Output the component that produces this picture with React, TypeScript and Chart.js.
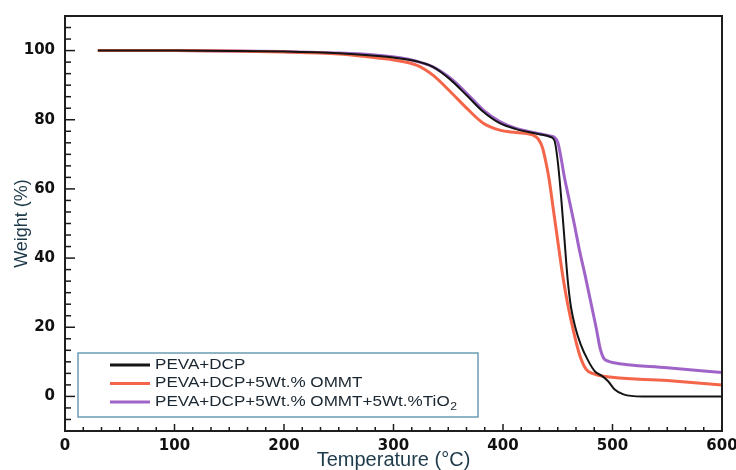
import React, { useEffect, useRef } from "react";
import { Chart, registerables } from "chart.js";

Chart.register(...registerables);

const seriesLabels = [
  "PEVA+DCP",
  "PEVA+DCP+5Wt.% OMMT",
  "PEVA+DCP+5Wt.% OMMT+5Wt.%TiO₂",
];
const seriesColors = ["#141414", "#f4654a", "#a064c8"];

const tempBlack = [30, 100, 150, 200, 250, 280, 300, 320, 336, 352, 367, 382, 397, 412, 430, 443, 447, 450, 453, 456, 459, 462, 466, 471, 478, 484, 490, 496, 502, 510, 527, 550, 600];
const weightBlack = [100, 100, 99.9, 99.7, 99.2, 98.6, 98, 97, 95.3, 91.6, 87, 82.3, 79, 77.3, 76, 75.1, 74, 68, 58, 46, 34, 26, 20, 15, 10.2, 7.2, 6, 4.4, 2, 0.6, 0, 0, 0];

const tempRed = [30, 100, 150, 200, 250, 276, 300, 321, 336, 352, 367, 382, 397, 412, 427, 432, 436, 439, 442, 446, 450, 455, 459, 465, 470, 476, 483, 490, 550, 600];
const weightRed = [100, 100, 99.9, 99.6, 99, 98.2, 97.3, 95.8, 92.9, 88.1, 83.3, 79, 77, 76.3, 75.6, 74.5, 72, 68, 63, 54, 45, 34, 26.8, 18, 12, 7.8, 6.5, 5.9, 4.6, 3.3];

const tempPurple = [30, 100, 150, 200, 250, 280, 306, 320, 336, 352, 367, 382, 397, 412, 430, 443, 447, 450, 453, 456, 460, 465, 470, 475, 480, 485, 489, 492, 496, 500, 550, 600];
const weightPurple = [100, 100, 99.9, 99.7, 99.3, 98.8, 97.9, 97, 95.3, 92, 87.6, 82.8, 79.5, 77.5, 76.2, 75.3, 74.9, 73.5, 69, 63.5, 57.5, 50, 42, 35, 27.5, 20, 13.5, 11, 10.2, 9.8, 8.3, 6.9];

const xMajorTicks = [0, 100, 200, 300, 400, 500, 600];
const yMajorTicks = [0, 20, 40, 60, 80, 100];

const toPoints = (t: number[], w: number[]) => t.map((x, i) => ({ x, y: w[i] }));

const framePlugin = {
  id: "frame",
  afterDatasetsDraw(chart: any) {
    const { ctx, chartArea } = chart;
    const xs = chart.scales.x;
    const ys = chart.scales.y;
    ctx.save();
    ctx.strokeStyle = "#1a1a1a";
    ctx.lineWidth = 1.5;
    for (let k = 0; k <= 36; k++) {
      const v = (k * 100) / 6;
      const px = xs.getPixelForValue(v);
      const len = k % 6 === 0 ? 7 : 4;
      ctx.beginPath();
      ctx.moveTo(px, chartArea.bottom);
      ctx.lineTo(px, chartArea.bottom - len);
      ctx.stroke();
    }
    for (let k = -3; k <= 33; k++) {
      const v = (k * 20) / 6;
      const py = ys.getPixelForValue(v);
      const len = k % 6 === 0 ? 10 : 6;
      ctx.beginPath();
      ctx.moveTo(chartArea.left, py);
      ctx.lineTo(chartArea.left + len, py);
      ctx.stroke();
    }
    ctx.lineWidth = 2;
    ctx.strokeStyle = "#1e1e1e";
    ctx.strokeRect(chartArea.left, chartArea.top, chartArea.right - chartArea.left, chartArea.bottom - chartArea.top);

    const bx = 78, by = 353, bw = 400, bh = 64;
    ctx.fillStyle = "#ffffff";
    ctx.fillRect(bx, by, bw, bh);
    ctx.strokeStyle = "#6b9db3";
    ctx.lineWidth = 1.5;
    ctx.strokeRect(bx, by, bw, bh);
    const rows = [365, 383.5, 402];
    chart.data.datasets.forEach((ds: any, i: number) => {
      const y = rows[i];
      ctx.strokeStyle = ds.borderColor;
      ctx.lineWidth = 3;
      ctx.beginPath();
      ctx.moveTo(110, y);
      ctx.lineTo(150, y);
      ctx.stroke();
      ctx.save();
      ctx.translate(155, y);
      ctx.scale(1.22, 1);
      ctx.fillStyle = "#1a2630";
      ctx.textBaseline = "middle";
      ctx.font = "14px 'Liberation Sans', Arial, sans-serif";
      const label: string = ds.label;
      const idx = label.indexOf("₂");
      if (idx >= 0) {
        const main = label.slice(0, idx);
        ctx.fillText(main, 0, 0);
        const w = ctx.measureText(main).width;
        ctx.font = "10px 'Liberation Sans', Arial, sans-serif";
        ctx.fillText("2", w + 0.5, 5);
      } else {
        ctx.fillText(label, 0, 0);
      }
      ctx.restore();
    });
    ctx.restore();
  },
};

export default function App() {
  const ref = useRef<HTMLCanvasElement | null>(null);
  useEffect(() => {
    document.body.style.margin = "0";
    const canvas = ref.current!;
    const chart = new Chart(canvas, {
      type: "line",
      data: {
        datasets: [
          { label: seriesLabels[0], data: toPoints(tempBlack, weightBlack), borderColor: seriesColors[0], borderWidth: 2, pointRadius: 0, cubicInterpolationMode: "monotone", fill: false },
          { label: seriesLabels[1], data: toPoints(tempRed, weightRed), borderColor: seriesColors[1], borderWidth: 3, pointRadius: 0, cubicInterpolationMode: "monotone", fill: false },
          { label: seriesLabels[2], data: toPoints(tempPurple, weightPurple), borderColor: seriesColors[2], borderWidth: 3, pointRadius: 0, cubicInterpolationMode: "monotone", fill: false },
        ],
      },
      options: {
        responsive: false,
        animation: false,
        devicePixelRatio: 1,
        layout: { padding: { top: 16, right: 14, left: 0, bottom: 0 } },
        plugins: { legend: { display: false }, tooltip: { enabled: false } },
        scales: {
          x: {
            type: "linear",
            min: 0,
            max: 600,
            grid: { display: false, drawTicks: false },
            border: { display: false },
            afterFit: (s: any) => { s.height = 39; s.paddingLeft = 0; s.paddingRight = 0; },
            afterBuildTicks: (s: any) => { s.ticks = xMajorTicks.map((v) => ({ value: v })); },
            ticks: { padding: 6, color: "#111", maxRotation: 0, font: { family: "'DejaVu Sans', sans-serif", weight: "bold", size: 15 } },
            title: { display: true, text: "Temperature (°C)", color: "#1d3a4a", padding: { top: 0, bottom: 0 }, font: { family: "'Liberation Sans', Arial, sans-serif", size: 20, lineHeight: 1 } },
          },
          y: {
            type: "linear",
            min: -10,
            max: 110,
            grid: { display: false, drawTicks: false },
            border: { display: false },
            afterFit: (s: any) => { s.width = 65; s.paddingTop = 0; s.paddingBottom = 0; },
            afterBuildTicks: (s: any) => { s.ticks = yMajorTicks.map((v) => ({ value: v })); },
            ticks: { padding: 10, color: "#111", font: { family: "'DejaVu Sans', sans-serif", weight: "bold", size: 15 } },
            title: { display: true, text: "Weight (%)", color: "#1d3a4a", padding: { top: 13, bottom: 0 }, font: { family: "'Liberation Sans', Arial, sans-serif", size: 18, lineHeight: 1 } },
          },
        },
      },
      plugins: [framePlugin],
    } as any);
    return () => chart.destroy();
  }, []);
  return (
    <div style={{ width: 736, height: 470, background: "#fff" }}>
      <canvas ref={ref} width={736} height={470} style={{ display: "block" }} />
    </div>
  );
}
